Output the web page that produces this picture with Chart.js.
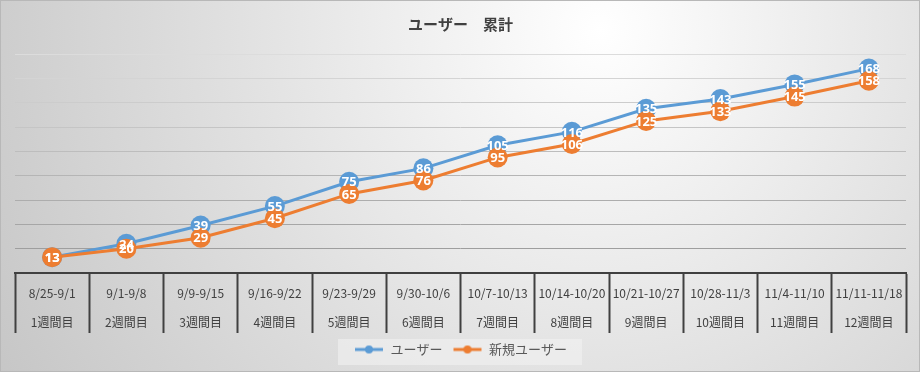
<!DOCTYPE html>
<html>
<head>
<meta charset="utf-8">
<script src="https://cdn.jsdelivr.net/npm/chart.js@4"></script>
<style>
  body { margin: 0; background: #fff; }
  #wrap { width: 920px; height: 372px; }
</style>
</head>
<body>
<div id="wrap"><canvas id="graphique" width="920" height="372"></canvas></div>
<script>
const periodes = ["8/25-9/1", "9/1-9/8", "9/9-9/15", "9/16-9/22", "9/23-9/29", "9/30-10/6",
    "10/7-10/13", "10/14-10/20", "10/21-10/27", "10/28-11/3", "11/4-11/10", "11/11-11/18"];
const semaines = ["1週間目", "2週間目", "3週間目", "4週間目", "5週間目", "6週間目",
    "7週間目", "8週間目", "9週間目", "10週間目", "11週間目", "12週間目"];
const utilisateurs = [13, 24, 39, 55, 75, 86, 105, 116, 135, 143, 155, 168];
const nouveaux = [13, 20, 29, 45, 65, 76, 95, 106, 125, 133, 145, 158];
const yMin = 0, yMax = 180, yStep = 20;

const police = "'Noto Sans CJK JP', 'Noto Sans', sans-serif";
const bleu = "#5B9BD5";
const orange = "#ED7D31";

// petite icone ligne + rond pour la legende
function iconeLegende(couleur){
    const c = document.createElement("canvas");
    c.width = 30; c.height = 10;
    const ctx = c.getContext("2d");
    ctx.strokeStyle = couleur;
    ctx.lineWidth = 3;
    ctx.beginPath(); ctx.moveTo(1, 5); ctx.lineTo(29, 5); ctx.stroke();
    ctx.fillStyle = couleur;
    ctx.beginPath(); ctx.arc(15, 5, 4, 0, Math.PI * 2); ctx.fill();
    return c;
}

const fond = {
    id: "fond",
    beforeDraw(chart){
        const ctx = chart.ctx;
        const w = chart.width, h = chart.height;
        ctx.save();
        const g = ctx.createRadialGradient(600, 30, 0, 600, 30, 720);
        g.addColorStop(0, "#ffffff");
        g.addColorStop(0.55, "#dedede");
        g.addColorStop(1, "#c4c4c4");
        ctx.fillStyle = g;
        ctx.fillRect(0, 0, w, h);
        ctx.strokeStyle = "#b8b8b8";
        ctx.lineWidth = 1;
        ctx.strokeRect(0.5, 0.5, w - 1, h - 1);
        // fond de la legende
        const lg = chart.legend;
        const lw = 244;
        ctx.fillStyle = "rgba(242,242,242,0.6)";
        ctx.fillRect((w - lw) / 2, lg.top + 6, lw, 26);
        ctx.restore();
    }
};

const etiquettes = {
    id: "etiquettes",
    afterDatasetsDraw(chart){
        const ctx = chart.ctx;
        ctx.save();
        ctx.font = "bold 13px 'Noto Sans', sans-serif";
        ctx.fillStyle = "#ffffff";
        ctx.textAlign = "center";
        ctx.textBaseline = "middle";
        [0, 1].forEach(i => {
            const meta = chart.getDatasetMeta(i);
            const donnees = chart.data.datasets[i].data;
            meta.data.forEach((pt, j) => {
                ctx.fillText(String(donnees[j]), pt.x, pt.y + 1);
            });
        });
        ctx.restore();
    }
};

const labels = periodes.map((p, i) => [p, semaines[i]]);

new Chart(document.querySelector("#graphique"), {
    type: "line",
    data: {
        labels: labels,
        datasets: [
            {
                label: "ユーザー",
                data: utilisateurs,
                borderColor: bleu,
                backgroundColor: bleu,
                borderWidth: 3,
                pointRadius: 10,
                pointHoverRadius: 10,
                pointBorderWidth: 0,
                order: 1
            },
            {
                label: "新規ユーザー",
                data: nouveaux,
                borderColor: orange,
                backgroundColor: orange,
                borderWidth: 3,
                pointRadius: 10,
                pointHoverRadius: 10,
                pointBorderWidth: 0,
                order: 0
            }
        ]
    },
    options: {
        responsive: false,
        animation: false,
        devicePixelRatio: 1,
        layout: { padding: { left: 15, right: 14, top: 0, bottom: 6 } },
        plugins: {
            title: {
                display: true,
                text: "ユーザー　累計",
                color: "#404040",
                font: { family: police, size: 15, weight: "bold" },
                padding: { top: 15, bottom: 21 }
            },
            legend: {
                position: "bottom",
                labels: {
                    color: "#595959",
                    font: { family: police, size: 13 },
                    usePointStyle: true,
                    pointStyleWidth: 30,
                    boxHeight: 10,
                    padding: 10,
                    generateLabels(chart){
                        return chart.data.datasets.map((ds, i) => ({
                            text: ds.label,
                            fillStyle: ds.borderColor,
                            strokeStyle: ds.borderColor,
                            pointStyle: iconeLegende(ds.borderColor),
                            fontColor: "#595959",
                            lineWidth: 0,
                            hidden: false,
                            datasetIndex: i
                        }));
                    }
                }
            },
            tooltip: { enabled: false }
        },
        scales: {
            x: {
                offset: true,
                grid: {
                    offset: true,
                    drawOnChartArea: false,
                    drawTicks: true,
                    tickLength: 60,
                    tickColor: "#404040",
                    tickWidth: 2
                },
                border: { display: true, color: "#404040", width: 2 },
                ticks: {
                    autoSkip: false,
                    maxRotation: 0,
                    padding: -54,
                    color: "#404040",
                    font: { family: police, size: 12, lineHeight: 2.4 }
                },
                afterFit(scale){ scale.height = 60; }
            },
            y: {
                min: yMin,
                max: yMax,
                ticks: { display: false, stepSize: yStep },
                border: { display: false },
                grid: {
                    drawTicks: false,
                    lineWidth: 1,
                    color: ctx => {
                        const f = ctx.tick ? ctx.tick.value / yMax : 0;
                        const v = Math.round(150 + 70 * f);
                        return `rgb(${v},${v},${v})`;
                    }
                },
                afterFit(scale){ scale.width = 0; }
            }
        }
    },
    plugins: [fond, etiquettes]
});
</script>
</body>
</html>
